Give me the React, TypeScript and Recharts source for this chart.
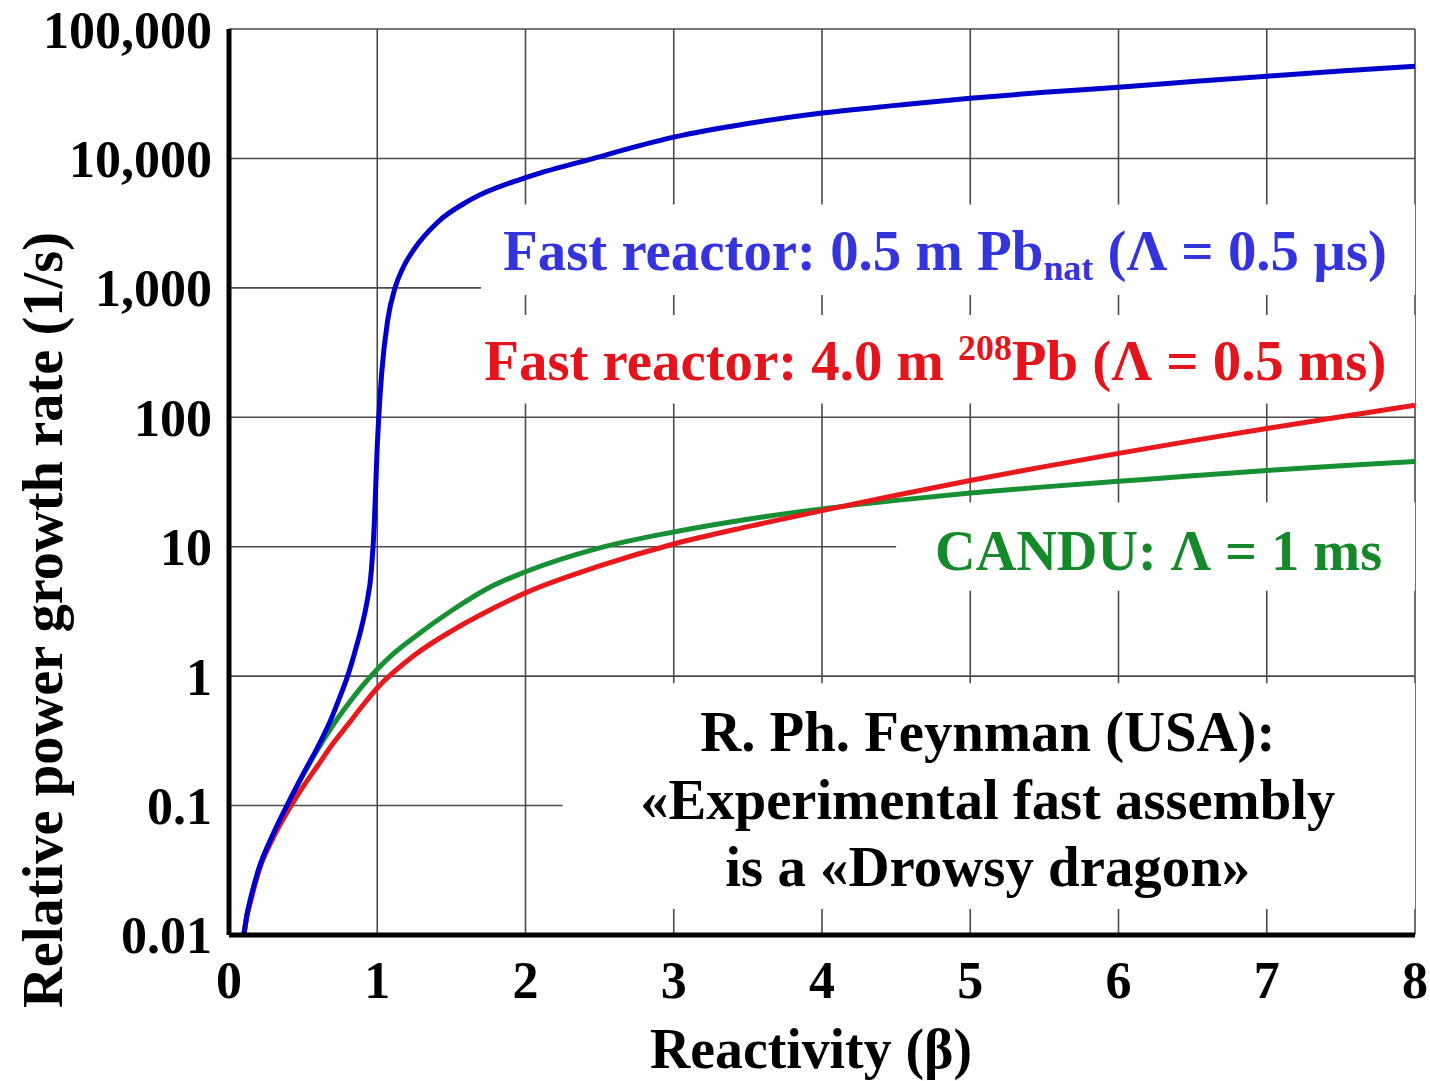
import { LineChart, Line, XAxis, YAxis, CartesianGrid, ReferenceArea } from 'recharts'

const FONT = "'Liberation Serif', 'Times New Roman', serif"

// axis ticks
const xTicks = [0, 1, 2, 3, 4, 5, 6, 7, 8]
const yTicks = [0.01, 0.1, 1, 10, 100, 1000, 10000, 100000]
const yTickLabels = ['0.01', '0.1', '1', '10', '100', '1,000', '10,000', '100,000']

// fast reactor, 0.5 m natural lead (Λ = 0.5 µs)
const fastNatX = [0.1, 0.12, 0.15, 0.2, 0.3, 0.4, 0.5, 0.6, 0.7, 0.75, 0.8, 0.85, 0.9, 0.93, 0.96, 0.98, 0.99, 1.0, 1.01, 1.03, 1.07, 1.12, 1.17, 1.25, 1.4, 1.63, 2, 2.43, 3, 3.5, 4, 4.5, 5, 5.5, 6, 6.5, 7, 7.5, 8]
const fastNatY = [0.01, 0.014, 0.02, 0.032, 0.061, 0.105, 0.175, 0.285, 0.5, 0.7, 1.0, 1.55, 2.55, 3.7, 6.5, 15, 30, 60, 100, 220, 560, 1000, 1400, 2000, 3160, 4800, 7100, 9800, 14600, 18600, 22400, 25700, 29200, 32400, 35500, 39300, 43200, 47300, 51600]

// fast reactor, 4.0 m lead-208 (Λ = 0.5 ms)
const fast208X = [0.1, 0.12, 0.15, 0.2, 0.3, 0.4, 0.5, 0.6, 0.7, 0.8, 0.9, 1, 1.25, 1.5, 1.75, 2, 2.5, 3, 3.5, 4, 4.5, 5, 5.5, 6, 6.5, 7, 7.5, 8]
const fast208Y = [0.01, 0.014, 0.019, 0.031, 0.057, 0.092, 0.14, 0.205, 0.3, 0.42, 0.59, 0.81, 1.45, 2.23, 3.2, 4.4, 7.1, 10.5, 14.3, 19, 25, 32.5, 41.6, 52.6, 66, 82, 101, 124]

// CANDU (Λ = 1 ms)
const canduX = [0.1, 0.12, 0.15, 0.2, 0.3, 0.4, 0.5, 0.6, 0.7, 0.8, 0.9, 1, 1.1, 1.25, 1.5, 1.75, 2, 2.5, 3, 3.5, 4, 4.5, 5, 5.5, 6, 6.5, 7, 7.5, 8]
const canduY = [0.01, 0.014, 0.02, 0.032, 0.06, 0.104, 0.173, 0.274, 0.415, 0.6, 0.84, 1.13, 1.46, 2.0, 3.2, 4.8, 6.4, 9.8, 13, 16.3, 19.6, 22.8, 26, 29, 32, 35.3, 38.8, 42.2, 45.6]

const toPoints = (xs: number[], ys: number[]) => xs.map((x, i) => ({ x, y: ys[i] }))

type Row = { dy: number; dx?: number; len: number; content: any }

// annotation text centred in a white box cut out of the grid
function BoxText(props: any) {
  const { viewBox, rows, color } = props
  if (!viewBox) return null
  const { x, y, width } = viewBox
  return (
    <g>
      {rows.map((r: Row, i: number) => (
        <text
          key={i}
          x={x + width / 2 + (r.dx || 0)}
          y={y + r.dy}
          textAnchor="middle"
          fill={color}
          fontFamily={FONT}
          fontWeight="bold"
          fontSize={57}
          textLength={r.len}
          lengthAdjust="spacingAndGlyphs"
        >
          {r.content}
        </text>
      ))}
    </g>
  )
}

function YTitle() {
  const cx = 62
  const cy = 620
  return (
    <text
      x={cx}
      y={cy}
      transform={`rotate(-90, ${cx}, ${cy})`}
      textAnchor="middle"
      fontFamily={FONT}
      fontWeight="bold"
      fontSize={57}
      fill="#000"
      textLength={776}
      lengthAdjust="spacingAndGlyphs"
    >
      Relative power growth rate (1/s)
    </text>
  )
}

function XTitle() {
  return (
    <text
      x={811}
      y={1068}
      textAnchor="middle"
      fontFamily={FONT}
      fontWeight="bold"
      fontSize={57}
      fill="#000"
      textLength={322}
      lengthAdjust="spacingAndGlyphs"
    >
      Reactivity (β)
    </text>
  )
}

const blueRows: Row[] = [
  {
    dy: 65,
    dx: -3,
    len: 884,
    content: (
      <>
        Fast reactor: 0.5 m Pb<tspan fontSize={36} dy={10}>nat</tspan>
        <tspan dy={-10}> (Λ = 0.5 µs)</tspan>
      </>
    ),
  },
]

const redRows: Row[] = [
  {
    dy: 65,
    dx: -9,
    len: 902,
    content: (
      <>
        Fast reactor: 4.0 m <tspan fontSize={36} dy={-20}>208</tspan>
        <tspan dy={20}>Pb (Λ = 0.5 ms)</tspan>
      </>
    ),
  },
]

const greenRows: Row[] = [{ dy: 68, dx: 3, len: 447, content: 'CANDU: Λ = 1 ms' }]

const quoteRows: Row[] = [
  { dy: 68, dx: -1, len: 575, content: 'R. Ph. Feynman (USA):' },
  { dy: 136, dx: -1, len: 695, content: '«Experimental fast assembly' },
  { dy: 203, dx: -1, len: 525, content: 'is a «Drowsy dragon»' },
]

export default function App() {
  const tickStyle = { fill: '#000', fontSize: 52, fontWeight: 'bold', fontFamily: FONT }
  return (
    <div style={{ position: 'absolute', left: 0, top: 0, background: '#fff' }}>
      <LineChart width={1430} height={1081} margin={{ top: 29, right: 15, bottom: 0, left: 0 }}>
        <CartesianGrid stroke="#4a4a4a" strokeWidth={1.6} />
        <XAxis
          type="number"
          dataKey="x"
          domain={[0, 8]}
          ticks={xTicks}
          allowDataOverflow
          height={146}
          tickLine={false}
          tickSize={0}
          tickMargin={26}
          axisLine={{ stroke: '#000', strokeWidth: 5 }}
          tick={tickStyle}
          label={<XTitle />}
        />
        <YAxis
          type="number"
          dataKey="y"
          scale="log"
          domain={[0.01, 100000]}
          ticks={yTicks}
          allowDataOverflow
          width={229}
          tickLine={false}
          tickSize={0}
          tickMargin={17}
          axisLine={{ stroke: '#000', strokeWidth: 5 }}
          tick={tickStyle}
          tickFormatter={(v: number) => yTickLabels[yTicks.indexOf(v)] ?? String(v)}
          label={<YTitle />}
        />
        <ReferenceArea x1={1.7} x2={8} y1={880} y2={4400} fill="#fff" fillOpacity={1} stroke="none"
          label={<BoxText rows={blueRows} color="#3434dc" />} />
        <ReferenceArea x1={1.65} x2={8} y1={128} y2={618} fill="#fff" fillOpacity={1} stroke="none"
          label={<BoxText rows={redRows} color="#e3141b" />} />
        <ReferenceArea x1={4.5} x2={8} y1={4.56} y2={22} fill="#fff" fillOpacity={1} stroke="none"
          label={<BoxText rows={greenRows} color="#15892a" />} />
        <ReferenceArea x1={2.25} x2={8} y1={0.0159} y2={0.88} fill="#fff" fillOpacity={1} stroke="none"
          label={<BoxText rows={quoteRows} color="#000" />} />
        <Line data={toPoints(canduX, canduY)} dataKey="y" type="monotone" stroke="#169032" strokeWidth={5}
          dot={false} isAnimationActive={false} />
        <Line data={toPoints(fast208X, fast208Y)} dataKey="y" type="monotone" stroke="#e8181c" strokeWidth={5}
          dot={false} isAnimationActive={false} />
        <Line data={toPoints(fastNatX, fastNatY)} dataKey="y" type="monotone" stroke="#0000cc" strokeWidth={5}
          dot={false} isAnimationActive={false} />
      </LineChart>
    </div>
  )
}
